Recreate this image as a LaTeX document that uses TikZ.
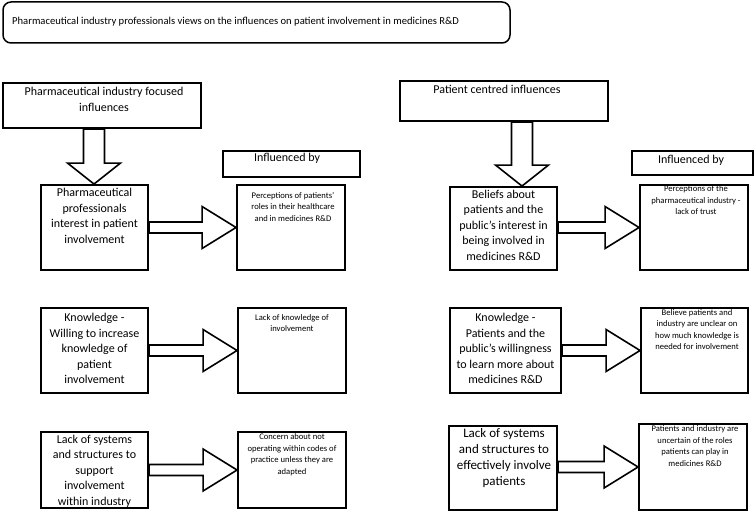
\documentclass[tikz,border=0pt]{standalone}
\usepackage{fontspec}
\setmainfont{Carlito}
\usetikzlibrary{calc}
\newcommand{\boxat}[5]{\node[box, minimum width={#4pt-#2pt}, minimum height={#5pt-#3pt}] (#1) at ({(#2+#4)/2},{(#3+#5)/2}) {};}
\newcommand{\rarrow}[2]{\draw[blk] let \p1=(#1.east), \p2=(#2.west) in
  (\x1,\y2+5.5pt) -- (\x2-34pt,\y2+5.5pt) -- (\x2-34pt,\y2+21pt) -- (\x2,\y2)
  -- (\x2-34pt,\y2-21pt) -- (\x2-34pt,\y2-5.5pt) -- (\x1,\y2-5.5pt) -- cycle;}
\newcommand{\darrow}[3]{\draw[blk] let \p1=(#1.south), \p2=(#2.north) in
  (#3pt-10.5pt,\y1) -- (#3pt-10.5pt,\y2+21pt) -- (#3pt-26.5pt,\y2+21pt) -- (#3pt,\y2)
  -- (#3pt+26.5pt,\y2+21pt) -- (#3pt+10.5pt,\y2+21pt) -- (#3pt+10.5pt,\y1) -- cycle;}
\begin{document}
\begin{tikzpicture}[x=1pt,y=-1pt,
  box/.style={draw, line width=1.9pt, inner sep=0pt, rectangle},
  big/.style={font=\fontsize{12}{15.5}\selectfont, align=center, inner sep=0pt, anchor=north},
  small/.style={font=\fontsize{8.6}{11.5}\selectfont, align=center, inner sep=0pt, anchor=north},
  blk/.style={draw, line width=1.6pt, line join=miter}]
\useasboundingbox (0,0) rectangle (755,519);
% title
\node[draw, line width=1.5pt, rounded corners=8pt, minimum width=507pt, minimum height=41pt, inner sep=0pt] (title) at (256.5,22.5) {};
\node[anchor=west, inner sep=0pt, font=\fontsize{10.6}{12}\selectfont] (titlet) at (12,22) {Pharmaceutical industry professionals views on the influences on patient involvement in medicines R\&D};
% left column
\boxat{L0}{3}{83}{201}{128}
\boxat{LI}{223}{151}{360}{177}
\boxat{L1}{41}{185}{148}{270}
\boxat{L1r}{237}{185}{345}{270}
\boxat{L2}{41}{308}{148}{393}
\boxat{L2r}{238}{308}{346}{393}
\boxat{L3}{41}{432}{148}{508}
\boxat{L3r}{238}{432}{346}{508}
% right column
\boxat{R0}{400}{81}{608}{121}
\boxat{RI}{632}{151}{753}{175}
\boxat{R1}{450}{187}{557}{270}
\boxat{R1r}{640}{185}{748}{270}
\boxat{R2}{450}{308}{561}{393}
\boxat{R2r}{641}{308}{748}{393}
\boxat{R3}{449}{426}{557}{510}
\boxat{R3r}{639}{424}{747}{510}
% texts
\node[big] (L0t) at (104,87) {Pharmaceutical industry focused\\influences};
\node[big] (LIt) at (287,153) {Influenced by};
\node[big] (L1t) at (94.5,188) {Pharmaceutical\\professionals\\interest in patient\\involvement};
\node[small] (L1rt) at (293,192) {Perceptions of patients'\\roles in their healthcare\\and in medicines R\&D};
\node[big] (L2t) at (94.5,313) {Knowledge -\\Willing to increase\\knowledge of\\patient\\involvement};
\node[small] (L2rt) at (292,314) {Lack of knowledge of\\involvement};
\node[big] (L3t) at (94.5,434.5) {Lack of systems\\and structures to\\support\\involvement\\within industry};
\node[small] (L3rt) at (292,433.5) {Concern about not\\operating within codes of\\practice unless they are\\adapted};
\node[big] (R0t) at (497,85) {Patient centred influences};
\node[big] (RIt) at (691,155) {Influenced by};
\node[big] (R1t) at (503.5,189.5) {Beliefs about\\patients and the\\public's interest in\\being involved in\\medicines R\&D};
\node[small] (R1rt) at (696,185.5) {Perceptions of the\\pharmaceutical industry -\\lack of trust};
\node[big] (R2t) at (505.5,313) {Knowledge -\\Patients and the\\public's willingness\\to learn more about\\medicines R\&D};
\node[small] (R2rt) at (697,309) {Believe patients and\\industry are unclear on\\how much knowledge is\\needed for involvement};
\node[big, font=\fontsize{13}{16}\selectfont] (R3t) at (504,428) {Lack of systems\\and structures to\\effectively involve\\patients};
\node[small] (R3rt) at (695,425.5) {Patients and industry are\\uncertain of the roles\\patients can play in\\medicines R\&D};
% arrows
\darrow{L0}{L1}{94}
\darrow{R0}{R1}{522}
\rarrow{L1}{L1r}
\rarrow{L2}{L2r}
\rarrow{L3}{L3r}
\rarrow{R1}{R1r}
\rarrow{R2}{R2r}
\rarrow{R3}{R3r}
\end{tikzpicture}
\end{document}
